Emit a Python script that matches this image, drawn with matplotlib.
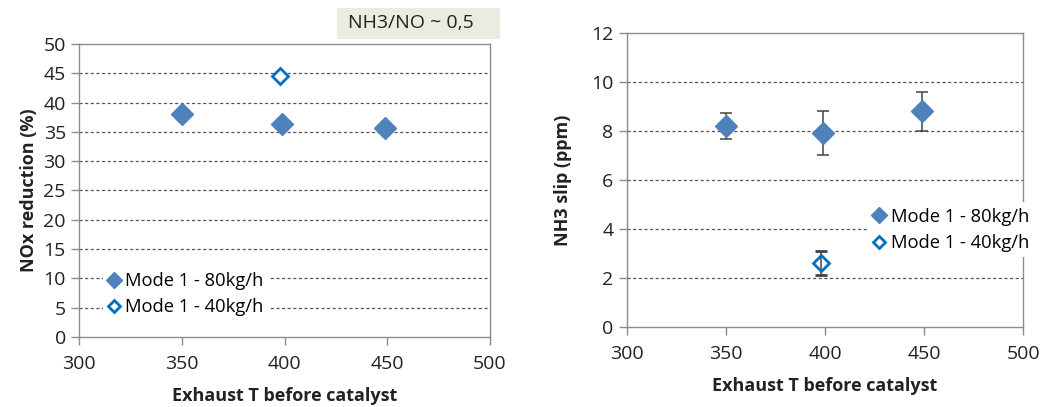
import matplotlib.pyplot as plt
from matplotlib.patches import Rectangle

plt.rcParams['font.family'] = ['Open Sans', 'DejaVu Sans']

# exhaust temperature before catalyst
temp_80 = [350, 399, 449]
temp_40 = [398]

# NOx reduction (%)
nox_80 = [38.1, 36.4, 35.6]
nox_40 = [44.6]

# NH3 slip (ppm) with error bars
slip_80 = [8.2, 7.9, 8.8]
slip_80_err = [0.55, 0.9, 0.8]
slip_40 = [2.6]
slip_40_err = [0.5]

label_80 = 'Mode 1 - 80kg/h'
label_40 = 'Mode 1 - 40kg/h'
fill_blue = '#4f81bd'
open_blue = '#0070c0'
spine_gray = '#8c8c8c'
text_col = '#222222'

fig = plt.figure(figsize=(10.41, 4.07), dpi=100)
ax1 = fig.add_axes([0.0759, 0.172, 0.3948, 0.720])
ax2 = fig.add_axes([0.602, 0.197, 0.381, 0.722])


def style_axes(ax, yticks):
    ax.set_xlim(300, 500)
    ax.set_xticks([300, 350, 400, 450, 500])
    ax.set_ylim(yticks[0], yticks[-1])
    ax.set_yticks(yticks)
    for y in yticks[1:-1]:
        ax.axhline(y, color='#555555', lw=0.9, ls=(0, (2.5, 2)), zorder=0)
    for s in ax.spines.values():
        s.set_color(spine_gray)
        s.set_linewidth(1.0)
    ax.tick_params(axis='both', colors=spine_gray, labelcolor=text_col,
                   labelsize=14, length=6, width=1.0, direction='out')
    ax.tick_params(axis='x', pad=7)
    ax.set_xlabel('Exhaust T before catalyst', fontsize=13, fontweight='bold',
                  labelpad=10, color=text_col)


legend_kw = dict(fontsize=13.2, frameon=True, framealpha=1, edgecolor='none', fancybox=False,
                 handlelength=0.6, handletextpad=0.35, borderpad=0.3, labelspacing=0.45,
                 markerscale=0.75)

# left panel: NOx reduction
style_axes(ax1, list(range(0, 51, 5)))
ax1.plot(temp_80, nox_80, 'D', ms=11, color=fill_blue, mec=fill_blue, label=label_80, zorder=3)
ax1.plot(temp_40, nox_40, 'D', ms=8.5, mfc='white', mec=open_blue, mew=2, label=label_40, zorder=3)
ax1.set_ylabel('NOx reduction (%)', fontsize=13, fontweight='bold', color=text_col, labelpad=4)
ax1.legend(loc='lower left', bbox_to_anchor=(0.035, 0.02), **legend_kw)

# ratio note above the left panel
fig.patches.append(Rectangle((0.3237, 0.904), 0.157, 0.077, transform=fig.transFigure,
                             fc='#ecebe1', ec='none'))
fig.text(0.334, 0.943, 'NH3/NO ~ 0,5', fontsize=14, color=text_col, va='center', ha='left')

# right panel: NH3 slip
style_axes(ax2, list(range(0, 13, 2)))
ax2.errorbar(temp_80, slip_80, yerr=slip_80_err, fmt='D', ms=11, color=fill_blue,
             ecolor='#444444', elinewidth=1.1, capsize=4.5, capthick=1.1, label=label_80, zorder=3)
ax2.errorbar(temp_40, slip_40, yerr=slip_40_err, fmt='D', ms=8.5, mfc='none', mec=open_blue,
             mew=2, ecolor='#444444', elinewidth=1.1, capsize=4.5, capthick=1.1, label=label_40, zorder=3)
ax2.set_ylabel('NH3 slip (ppm)', fontsize=13, fontweight='bold', color=text_col, labelpad=14)
handles, labels = ax2.get_legend_handles_labels()
handles = [h[0] for h in handles]
leg2 = ax2.legend(handles, labels, loc='center left', bbox_to_anchor=(0.585, 0.33), **legend_kw)
leg2.get_lines()[1].set_markerfacecolor('white')
leg2.set_zorder(5)

fig.savefig('out.png', dpi=100)
